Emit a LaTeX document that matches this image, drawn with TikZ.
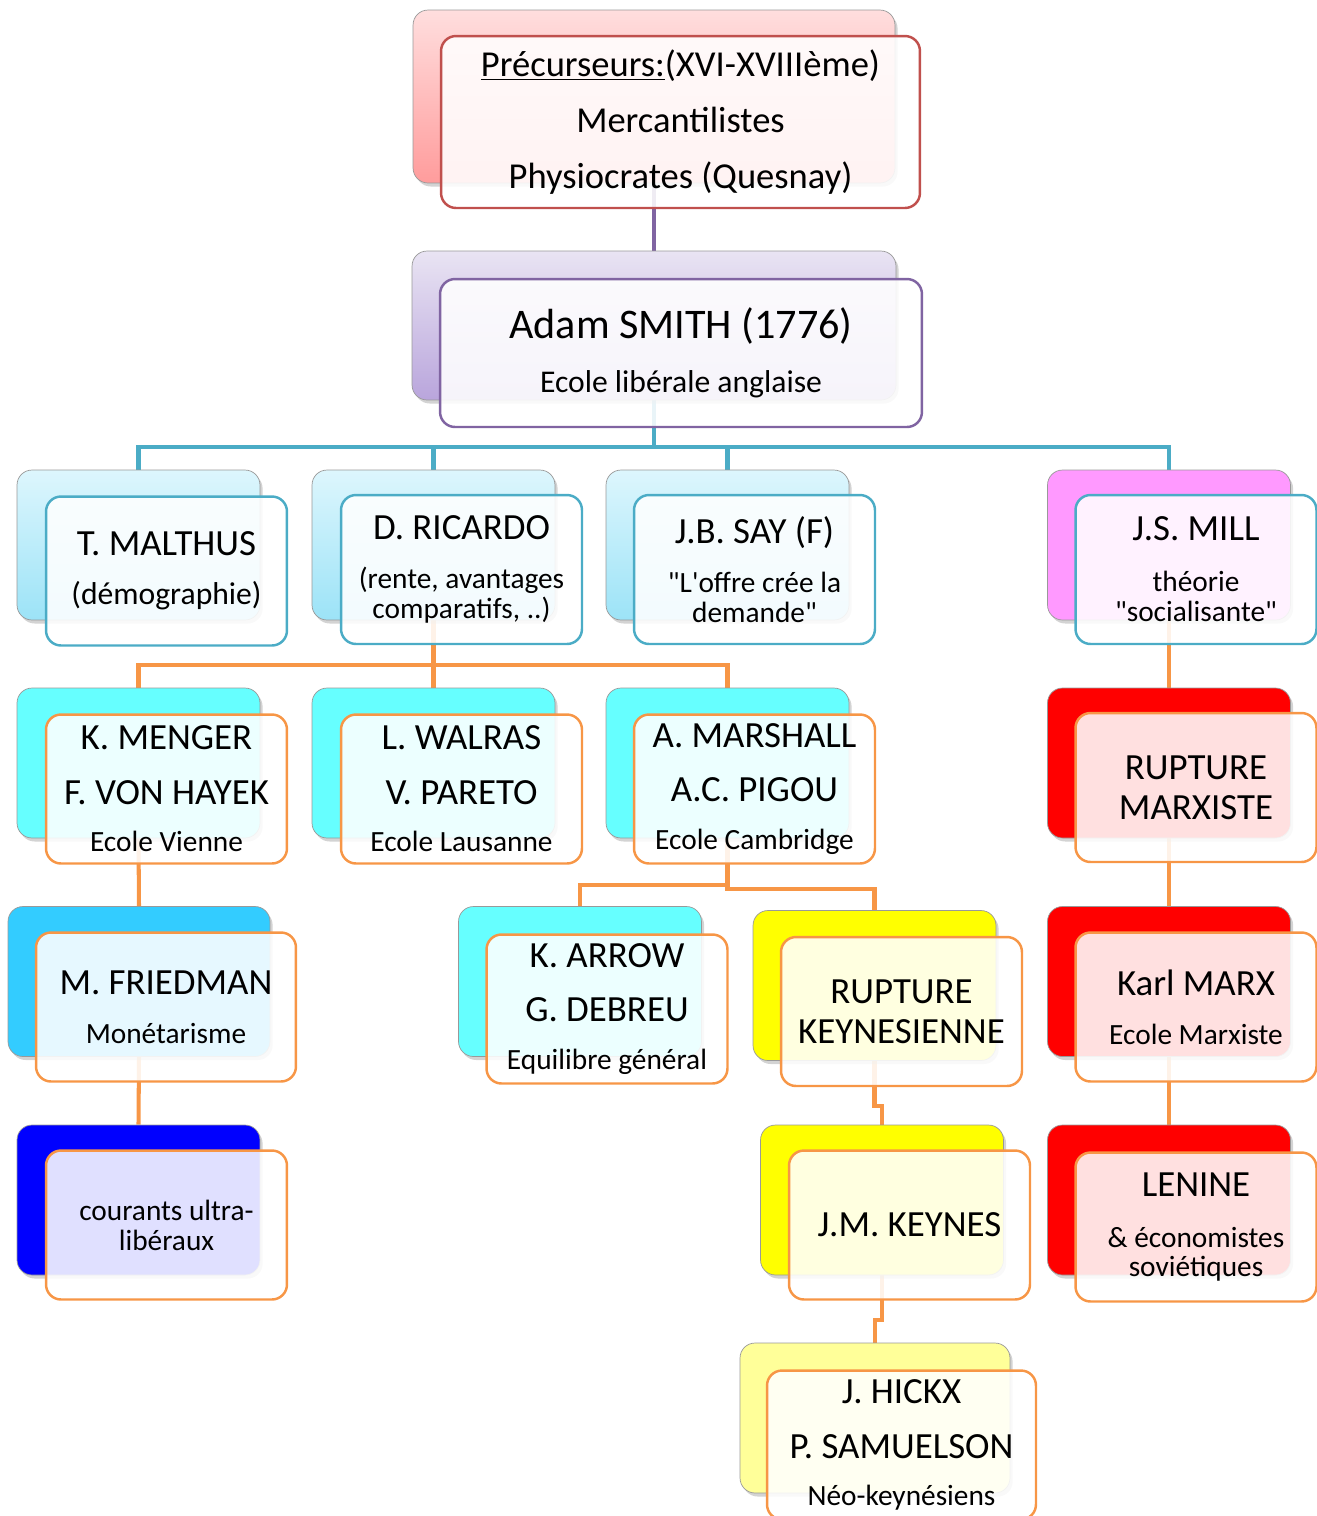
\documentclass[tikz,border=0pt]{standalone}
\usepackage{fontspec}
\setmainfont{Carlito}
\usepackage{tikz}
\usetikzlibrary{shadows}
\pgfdeclarelayer{background}
\pgfsetlayers{background,main}
\definecolor{bordred}{HTML}{C0504D}
\definecolor{bordpurple}{HTML}{8064A2}
\definecolor{bordteal}{HTML}{4BACC6}
\definecolor{bordorange}{HTML}{F79646}
\definecolor{cyanbox}{HTML}{66FFFF}
\definecolor{skybox}{HTML}{33CCFF}
\definecolor{yellowbox}{HTML}{FFFF00}
\definecolor{paleyellow}{HTML}{FFFF99}
\definecolor{redbox}{HTML}{FF0000}
\definecolor{bluebox}{HTML}{0000FF}
\definecolor{pinkbox}{HTML}{FF99FF}
\definecolor{pinktop}{HTML}{FFDEDE}
\definecolor{pinkbot}{HTML}{FF9C9C}
\definecolor{lilactop}{HTML}{E9E4F3}
\definecolor{lilacbot}{HTML}{B9A5DC}
\definecolor{icetop}{HTML}{DDF6FD}
\definecolor{icebot}{HTML}{9CE3F7}
\newcommand\nmsize{\fontsize{21}{24}\selectfont}

\begin{document}
\begin{tikzpicture}[line cap=round,line join=round,x=0.02cm,y=-0.02cm,
  backbox/.style={rounded corners=0.3cm,draw=black!40,line width=0.4pt,minimum width=4.86cm,minimum height=3cm,
    drop shadow={shadow xshift=1.5pt,shadow yshift=-2pt,opacity=0.35}},
  frontbox/.style={rounded corners=0.3cm,line width=1.4pt,fill=white,fill opacity=0.88,text opacity=1,
    minimum width=4.82cm,minimum height=2.98cm,align=center,inner sep=0pt,font=\fontsize{16.7}{17}\selectfont},
  link/.style={line width=2.3pt,line cap=butt}]
\useasboundingbox (0,0) rectangle (1317,1516);

% precurseurs / smith
\node[backbox,minimum width=9.64cm,minimum height=3.46cm,top color=pinktop,bottom color=pinkbot] (precB) at (654,96.5) {};
\node[frontbox,draw=bordred,minimum width=9.58cm,minimum height=3.44cm,font=\fontsize{20.8}{32}\selectfont] (prec) at (680.5,122)
  {\underline{Précurseurs:}(XVI-XVIIIème)\\Mercantilistes\\Physiocrates (Quesnay)};
\node[backbox,minimum width=9.68cm,minimum height=2.98cm,top color=lilactop,bottom color=lilacbot] (smithB) at (654,325.5) {};
\node[frontbox,draw=bordpurple,minimum width=9.64cm,minimum height=2.96cm,font=\fontsize{18}{30.6}\selectfont] (smith) at (681,353)
  {{\fontsize{24}{26}\selectfont Adam SMITH (1776)}\\Ecole libérale anglaise};

% classiques
\node[backbox,top color=icetop,bottom color=icebot] (malthusB) at (138.5,545) {};
\node[frontbox,draw=bordteal,font=\fontsize{18}{17}\selectfont] (malthus) at (166.5,571) {{\nmsize T. MALTHUS}\\[11pt](démographie)};
\node[backbox,top color=icetop,bottom color=icebot] (ricardoB) at (433.5,545) {};
\node[frontbox,draw=bordteal] (ricardo) at (461.5,569.5) {{\nmsize D. RICARDO}\\[11pt](rente, avantages\\comparatifs, ..)};
\node[backbox,top color=icetop,bottom color=icebot] (sayB) at (727.5,545) {};
\node[frontbox,draw=bordteal] (say) at (754.5,569.5) {{\nmsize J.B. SAY (F)}\\[11pt]\textquotedbl L\textquotesingle offre crée la\\demande\textquotedbl};
\node[backbox,fill=pinkbox] (millB) at (1169,545) {};
\node[frontbox,draw=bordteal] (mill) at (1196,569.5) {{\nmsize J.S. MILL}\\[12pt]théorie\\\textquotedbl socialisante\textquotedbl};

% neo-classiques
\node[backbox,fill=cyanbox] (mengerB) at (138.5,763) {};
\node[frontbox,draw=bordorange] (menger) at (166.5,789) {{\nmsize K. MENGER}\\[14pt]{\nmsize F. VON HAYEK}\\[10pt]Ecole Vienne};
\node[backbox,fill=cyanbox] (walrasB) at (433.5,763) {};
\node[frontbox,draw=bordorange] (walras) at (461.5,789) {{\nmsize L. WALRAS}\\[14pt]{\nmsize V. PARETO}\\[10pt]Ecole Lausanne};
\node[backbox,fill=cyanbox] (marshallB) at (727.5,763) {};
\node[frontbox,draw=bordorange] (marshall) at (754.5,789) {{\nmsize A. MARSHALL}\\[14pt]{\nmsize A.C. PIGOU}\\[10pt]Ecole Cambridge};
\node[backbox,fill=redbox] (rmB) at (1169,763) {};
\node[frontbox,draw=bordorange,font=\fontsize{21}{22.7}\selectfont] (rm) at (1196,787.5) {RUPTURE\\MARXISTE};

% rang 4
\node[backbox,fill=skybox,minimum width=5.24cm] (friedmanB) at (139,981.5) {};
\node[frontbox,draw=bordorange,minimum width=5.2cm] (friedman) at (166,1007) {{\nmsize M. FRIEDMAN}\\[11pt]Monétarisme};
\node[backbox,fill=cyanbox] (arrowB) at (580,981.5) {};
\node[frontbox,draw=bordorange] (arrow) at (607,1009) {{\nmsize K. ARROW}\\[14pt]{\nmsize G. DEBREU}\\[10pt]Equilibre général};
\node[backbox,fill=yellowbox] (rkB) at (874.5,985.5) {};
\node[frontbox,draw=bordorange,font=\fontsize{21}{22.7}\selectfont] (rk) at (901.5,1011.5) {RUPTURE\\KEYNESIENNE};
\node[backbox,fill=redbox] (marxB) at (1169,981.5) {};
\node[frontbox,draw=bordorange] (marx) at (1196,1007) {{\nmsize Karl MARX}\\[11pt]Ecole Marxiste};

% rang 5
\node[backbox,fill=bluebox] (courantsB) at (138.5,1200) {};
\node[frontbox,draw=bordorange] (courants) at (166.5,1225) {courants ultra-\\libéraux};
\node[backbox,fill=yellowbox] (keynesB) at (882,1200) {};
\node[frontbox,draw=bordorange] (keynes) at (909.5,1225) {\nmsize J.M. KEYNES};
\node[backbox,fill=redbox] (lenineB) at (1169,1200) {};
\node[frontbox,draw=bordorange] (lenine) at (1196,1227) {{\nmsize LENINE}\\[12pt]\& économistes\\soviétiques};

% rang 6
\node[backbox,fill=paleyellow,minimum width=5.4cm] (hickxB) at (875,1418) {};
\node[frontbox,draw=bordorange,minimum width=5.38cm] (hickx) at (901.5,1445) {{\nmsize J. HICKX}\\[14pt]{\nmsize P. SAMUELSON}\\[10pt]Néo-keynésiens};

\begin{pgfonlayer}{background}
\draw[link,bordpurple] (precB.south) -- (smithB.north);
\coordinate (sj) at (654,447);
\draw[link,bordteal] (smithB.south) -- (sj);
\draw[link,bordteal] (sj) -| (malthusB.north);
\draw[link,bordteal] (sj) -| (ricardoB.north);
\draw[link,bordteal] (sj) -| (sayB.north);
\draw[link,bordteal] (sj) -| (millB.north);
\coordinate (rj) at (433.5,665);
\draw[link,bordorange] (ricardoB.south) -- (rj);
\draw[link,bordorange] (rj) -| (mengerB.north);
\draw[link,bordorange] (rj) -| (marshallB.north);
\draw[link,bordorange] (rj) -- (walrasB.north);
\coordinate (mj) at (727.5,885);
\draw[link,bordorange] (marshallB.south) -- (mj) -| (arrowB.north);
\draw[link,bordorange] (mj) -- ++(0,4) -| (rkB.north);
\draw[link,bordorange] (mengerB.south) -- (friedmanB.north);
\draw[link,bordorange] (friedmanB.south) -- (courantsB.north);
\draw[link,bordorange] (rkB.south) -- ++(0,45) -| (keynesB.north);
\draw[link,bordorange] (keynesB.south) -- ++(0,45) -| (hickxB.north);
\draw[link,bordorange] (millB.south) -- (rmB.north);
\draw[link,bordorange] (rmB.south) -- (marxB.north);
\draw[link,bordorange] (marxB.south) -- (lenineB.north);
\end{pgfonlayer}
\end{tikzpicture}
\end{document}
